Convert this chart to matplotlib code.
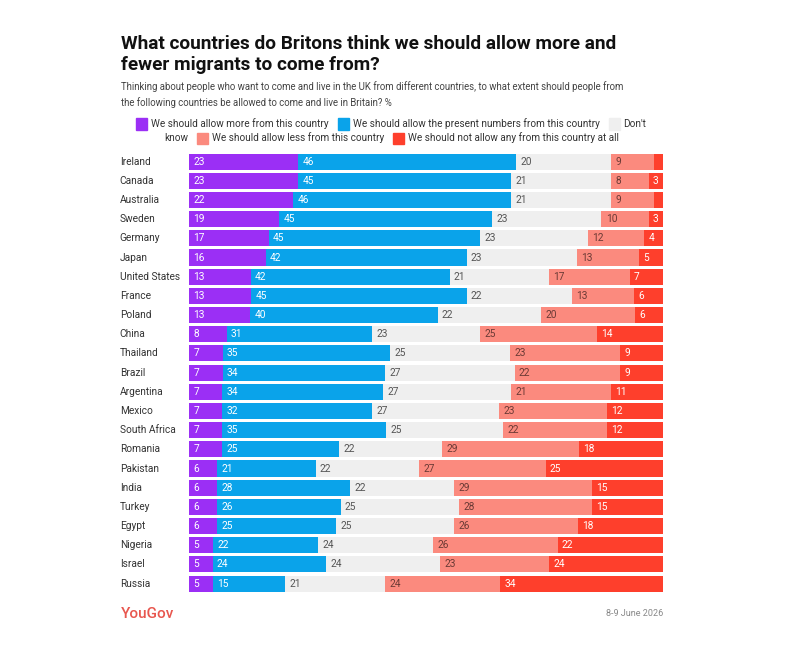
import matplotlib
matplotlib.use("Agg")
import matplotlib.pyplot as plt
from matplotlib.patches import Rectangle
import numpy as np

countries = ["Ireland", "Canada", "Australia", "Sweden", "Germany", "Japan",
             "United States", "France", "Poland", "China", "Thailand", "Brazil",
             "Argentina", "Mexico", "South Africa", "Romania", "Pakistan", "India",
             "Turkey", "Egypt", "Nigeria", "Israel", "Russia"]
more = [23, 23, 22, 19, 17, 16, 13, 13, 13, 8, 7, 7, 7, 7, 7, 7, 6, 6, 6, 6, 5, 5, 5]
present = [46, 45, 46, 45, 45, 42, 42, 45, 40, 31, 35, 34, 34, 32, 35, 25, 21, 28, 26, 25, 22, 24, 15]
dont_know = [20, 21, 21, 23, 23, 23, 21, 22, 22, 23, 25, 27, 27, 27, 25, 22, 22, 22, 25, 25, 24, 24, 21]
less = [9, 8, 9, 10, 12, 13, 17, 13, 20, 25, 23, 22, 21, 23, 22, 29, 27, 29, 28, 26, 26, 23, 24]
none_ = [2, 3, 2, 3, 4, 5, 7, 6, 6, 14, 9, 9, 11, 12, 12, 18, 25, 15, 15, 18, 22, 24, 34]

series_names = ["We should allow more from this country",
                "We should allow the present numbers from this country",
                "Don't know",
                "We should allow less from this country",
                "We should not allow any from this country at all"]
colors = ["#9b2ff5", "#0aa3ea", "#efefef", "#fb8a7e", "#fe3f2c"]
text_colors = ["white", "white", "#555555", "#6b3a35", "white"]

title = "What countries do Britons think we should allow more and\nfewer migrants to come from?"
subtitle = ("Thinking about people who want to come and live in the UK from different countries, to what extent should people from\n"
            "the following countries be allowed to come and live in Britain? %")
source = "8-9 June 2026"

plt.rcParams['font.family'] = ['Roboto', 'DejaVu Sans']

W, H = 800, 658
fig = plt.figure(figsize=(W / 100, H / 100), dpi=100)
fig.patch.set_facecolor("white")

ax_left, ax_right = 189 / W, 663 / W
ax_top_px, ax_bot_px = 152.0, 593.2
ax = fig.add_axes([ax_left, 1 - ax_bot_px / H, ax_right - ax_left, (ax_bot_px - ax_top_px) / H])

data = np.array([more, present, dont_know, less, none_], dtype=float)
totals = data.sum(axis=0)
norm = data / totals * 100
y = np.arange(len(countries))
left = np.zeros(len(countries))
for i in range(5):
    ax.barh(y, norm[i], left=left, height=0.84, color=colors[i], linewidth=0)
    for j in range(len(countries)):
        v = data[i, j]
        if v >= 3:
            ax.text(left[j] + 0.9, y[j], f"{int(v)}", ha="left", va="center",
                    fontsize=7.3, color=text_colors[i])
    left += norm[i]

ax.set_xlim(0, 100)
ax.set_ylim(len(countries) - 0.5, -0.5)
ax.axis("off")

# country labels
for j, c in enumerate(countries):
    ax.text(-14.6, y[j], c, ha="left", va="center", fontsize=7.3, color="#333333",
            transform=ax.transData)

# title & subtitle
fig.text(121 / W, 1 - 35 / H, title, ha="left", va="top", fontsize=13.7,
         fontweight="bold", color="#111111", linespacing=1.2)
fig.text(121 / W, 1 - 81 / H, subtitle, ha="left", va="top", fontsize=6.9,
         color="#444444", linespacing=1.6)

# legend (flow layout, two lines)
fig.canvas.draw()
renderer = fig.canvas.get_renderer()
lines = [[(0, series_names[0]), (1, series_names[1]), (2, "Don't")],
         [(None, "know"), (3, series_names[3]), (4, series_names[4])]]
line_y = [124, 138]
line_x = [136, 164]
sq = 11
gap_sq = 4
gap_item = 9
for li, items in enumerate(lines):
    x = line_x[li]
    yc = 1 - line_y[li] / H
    for idx, txt in items:
        if idx is not None:
            fig.patches.append(Rectangle((x / W, yc - (sq / 2) / H), sq / W, sq / H,
                                         transform=fig.transFigure, color=colors[idx],
                                         figure=fig))
            x += sq + gap_sq
        t = fig.text(x / W, yc, txt, ha="left", va="center", fontsize=7.2, color="#333333")
        x += t.get_window_extent(renderer).width + gap_item

# footer
fig.text(121 / W, 1 - 614 / H, "YouGov", ha="left", va="center", fontsize=11,
         color="#e8574f", fontweight="medium")
fig.text(663 / W, 1 - 614 / H, source, ha="right", va="center", fontsize=6.5,
         color="#888888")

fig.savefig("out.png", dpi=100, facecolor="white")
